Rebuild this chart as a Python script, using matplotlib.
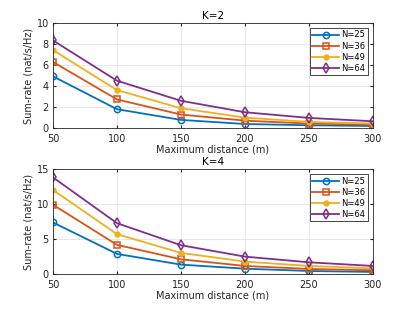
import matplotlib
matplotlib.use("Agg")
import matplotlib.pyplot as plt

distances = [50, 100, 150, 200, 250, 300]
labels = ["N=25", "N=36", "N=49", "N=64"]
k2 = {
    "N=25": [4.92, 1.79, 0.77, 0.38, 0.26, 0.19],
    "N=36": [6.29, 2.72, 1.28, 0.70, 0.42, 0.32],
    "N=49": [7.41, 3.61, 1.88, 0.99, 0.58, 0.42],
    "N=64": [8.34, 4.50, 2.59, 1.50, 0.96, 0.64],
}
k4 = {
    "N=25": [7.36, 2.87, 1.34, 0.76, 0.43, 0.29],
    "N=36": [9.89, 4.16, 2.10, 1.15, 0.72, 0.53],
    "N=49": [12.0, 5.69, 3.01, 1.77, 1.15, 0.81],
    "N=64": [13.8, 7.26, 4.11, 2.48, 1.67, 1.15],
}
colors = ["#0072BD", "#D95319", "#EDB120", "#7E2F8E"]
markers = ["o", "s", "o", "d"]
msizes = [4.5, 4, 3.5, 5]
fills = ["none", "none", "full", "none"]

plt.rcParams['font.family'] = ['DejaVu Sans']
fig = plt.figure(figsize=(4.12, 3.09), dpi=100)

def draw(ax, data, title, ylim, yticks):
    for lab, c, m, ms, f in zip(labels, colors, markers, msizes, fills):
        kw = dict(color=c, marker=m, markersize=ms, linewidth=1.3, markeredgewidth=1.1, label=lab)
        kw["markerfacecolor"] = "none" if f == "none" else c
        ax.plot(distances, data[lab], **kw)
    ax.set_xlim(50, 300)
    ax.set_ylim(*ylim)
    ax.set_yticks(yticks)
    ax.set_xticks(distances)
    ax.grid(True, color="#e3e3e3", linewidth=0.6)
    ax.set_axisbelow(True)
    ax.tick_params(direction="in", length=2.5, labelsize=7, colors="#262626", top=True, right=True)
    ax.tick_params(axis="x", pad=4)
    ax.tick_params(axis="y", pad=3)
    for s in ax.spines.values():
        s.set_color("#262626")
        s.set_linewidth(0.6)
    ax.set_title(title, fontsize=7.5, pad=3, color="#000000")
    ax.set_xlabel("Maximum distance (m)", fontsize=7, labelpad=1, color="#262626")
    ax.set_ylabel("Sum-rate (nat/s/Hz)", fontsize=7, labelpad=2, color="#262626")
    leg = ax.legend(loc="upper right", fontsize=6, frameon=True, fancybox=False,
                    edgecolor="#262626", framealpha=1, handlelength=3.2, handletextpad=0.3,
                    borderpad=0.3, labelspacing=0.25, borderaxespad=0.6)
    leg.get_frame().set_linewidth(0.6)

ax1 = fig.add_axes([53/412, 1 - 128/309, 320/412, 105/309])
draw(ax1, k2, "K=2", (0, 10), [0, 2, 4, 6, 8, 10])
ax2 = fig.add_axes([53/412, 1 - 274/309, 320/412, 105/309])
draw(ax2, k4, "K=4", (0, 15), [0, 5, 10, 15])

fig.savefig("out.png", dpi=100)
